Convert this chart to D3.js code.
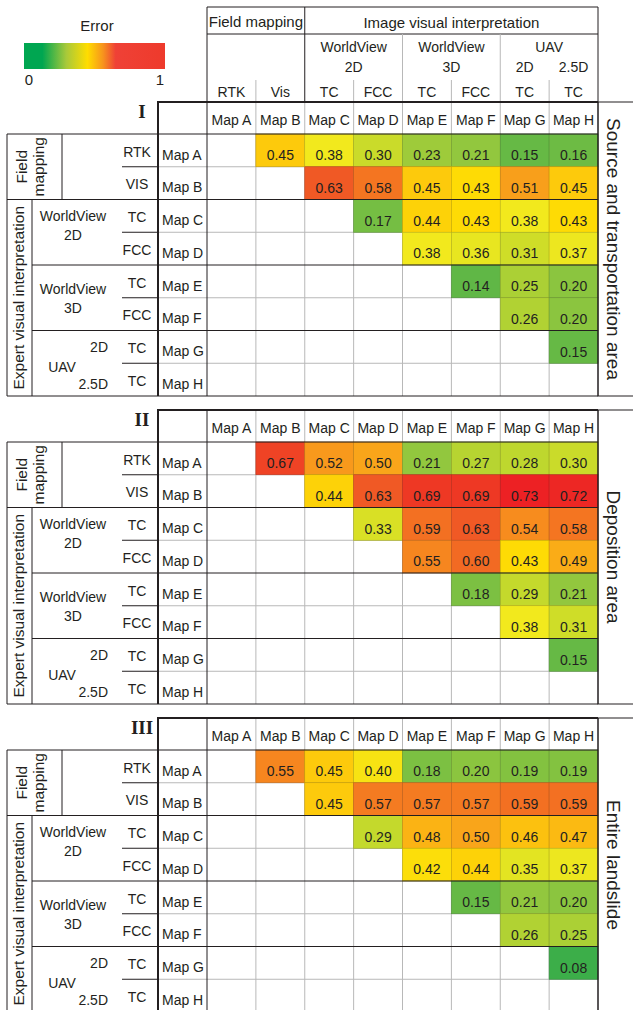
<!DOCTYPE html>
<html>
<head>
<meta charset="utf-8">
<script src="https://cdn.jsdelivr.net/npm/d3@7"></script>
<style>
body { margin: 0; background: #fff; }
svg { display: block; font-family: "Liberation Sans", Arial, sans-serif; }
text { fill: #231f20; }
</style>
</head>
<body>
<div id="chart"></div>
<script>
// ---- data ----
var maps = ["Map A", "Map B", "Map C", "Map D", "Map E", "Map F", "Map G", "Map H"];
var colSources = ["RTK", "Vis", "TC", "FCC", "TC", "FCC", "TC", "TC"];
var rowSources = ["RTK", "VIS", "TC", "FCC", "TC", "FCC", "TC", "TC"];
var numerals = ["I", "II", "III"];
var areaNames = ["Source and transportation area", "Deposition area", "Entire landslide"];

// upper triangle, row i holds the values for columns i+1 .. H
var sourceArea = [
    [0.45, 0.38, 0.30, 0.23, 0.21, 0.15, 0.16],
    [0.63, 0.58, 0.45, 0.43, 0.51, 0.45],
    [0.17, 0.44, 0.43, 0.38, 0.43],
    [0.38, 0.36, 0.31, 0.37],
    [0.14, 0.25, 0.20],
    [0.26, 0.20],
    [0.15]
];
var depositionArea = [
    [0.67, 0.52, 0.50, 0.21, 0.27, 0.28, 0.30],
    [0.44, 0.63, 0.69, 0.69, 0.73, 0.72],
    [0.33, 0.59, 0.63, 0.54, 0.58],
    [0.55, 0.60, 0.43, 0.49],
    [0.18, 0.29, 0.21],
    [0.38, 0.31],
    [0.15]
];
var entireLandslide = [
    [0.55, 0.45, 0.40, 0.18, 0.20, 0.19, 0.19],
    [0.45, 0.57, 0.57, 0.57, 0.59, 0.59],
    [0.29, 0.48, 0.50, 0.46, 0.47],
    [0.42, 0.44, 0.35, 0.37],
    [0.15, 0.21, 0.20],
    [0.26, 0.25],
    [0.08]
];
var panels = [sourceArea, depositionArea, entireLandslide];

// ---- layout ----
var width = 633, height = 1010;
var panelTops = [102, 410, 718];
var headH = 32, rowH = 32.75;
var dark = "#231f20", light = "#b8b8b8";

var svg = d3.select("#chart").append("svg")
    .attr("width", width)
    .attr("height", height);

var x = d3.scaleBand().domain(maps).range([207, 598]);
var bw = x.bandwidth();

// cell colour, same scale for all three panels
var color = d3.scaleLinear()
    .domain([0.08, 0.15, 0.21, 0.30, 0.38, 0.43, 0.46, 0.50, 0.55, 0.60, 0.65, 0.69, 0.73])
    .range(["#3cae49", "#66b945", "#92c73e", "#cadb2a", "#f2e91d", "#fedb05", "#fcc10f",
            "#f9a51a", "#f6861f", "#f26a23", "#ef4e27", "#ee3824", "#ed2124"])
    .clamp(true);

function line(g, x1, y1, x2, y2, stroke, w) {
    g.append("line")
        .attr("x1", x1).attr("y1", y1).attr("x2", x2).attr("y2", y2)
        .attr("stroke", stroke).attr("stroke-width", w || 1);
}
function label(g, t, tx, ty, size, anchor) {
    return g.append("text")
        .attr("x", tx).attr("y", ty)
        .attr("font-size", size)
        .attr("text-anchor", anchor || "middle")
        .text(t);
}

// ---- legend ----
var grad = svg.append("defs").append("linearGradient").attr("id", "errGrad");
[[0, "#00a651"], [0.13, "#00a651"], [0.3, "#a8c93a"], [0.45, "#ffdd00"],
 [0.56, "#f7941d"], [0.65, "#ef4136"], [1, "#ee3a2c"]].forEach(function (s) {
    grad.append("stop").attr("offset", s[0]).attr("stop-color", s[1]);
});
label(svg, "Error", 97, 31, 15);
svg.append("rect").attr("x", 24).attr("y", 43).attr("width", 141).attr("height", 26)
    .attr("fill", "url(#errGrad)");
label(svg, "0", 29, 85, 15);
label(svg, "1", 160, 85, 15);

// ---- column header ----
var hd = svg.append("g");
line(hd, 207, 7, 598, 7, dark);
line(hd, 207, 34, 598, 34, dark);
line(hd, 207, 7, 207, 102, dark);
line(hd, x("Map C"), 7, x("Map C"), 102, dark);
line(hd, 598, 7, 598, 102, dark);
line(hd, x("Map E"), 34, x("Map E"), 102, light);
line(hd, x("Map G"), 34, x("Map G"), 102, light);
["Map B", "Map D", "Map F", "Map H"].forEach(function (m) {
    line(hd, x(m), 80, x(m), 102, light);
});
label(hd, "Field mapping", x("Map B"), 27, 15);
label(hd, "Image visual interpretation", (x("Map C") + 598) / 2, 28, 15);
label(hd, "WorldView", x("Map D"), 52, 14);
label(hd, "2D", x("Map D"), 72, 14);
label(hd, "WorldView", x("Map F"), 52, 14);
label(hd, "3D", x("Map F"), 72, 14);
label(hd, "UAV", x("Map H"), 52, 14);
label(hd, "2D", x("Map G") + bw / 2, 72, 14);
label(hd, "2.5D", x("Map H") + bw / 2, 72, 14);
colSources.forEach(function (s, i) {
    label(hd, s, x(maps[i]) + bw / 2, 97, 14);
});

// ---- panels ----
panels.forEach(function (vals, p) {
    var T = panelTops[p];
    var bottom = T + headH + rowH * 8;
    var y = d3.scaleBand().domain(maps).range([T + headH, bottom]);
    var g = svg.append("g");

    // light grid
    maps.slice(1).forEach(function (m) {
        line(g, x(m), T, x(m), bottom, light);
    });
    maps.slice(1).forEach(function (m, i) {
        if (i % 2 == 0) line(g, 158, y(m), 598, y(m), light);
    });

    // cells
    var cells = [];
    vals.forEach(function (row, i) {
        row.forEach(function (v, k) {
            cells.push({ r: maps[i], c: maps[i + 1 + k], v: v });
        });
    });
    g.selectAll("rect.cell").data(cells).enter().append("rect")
        .attr("class", "cell")
        .attr("x", function (d) { return x(d.c); })
        .attr("y", function (d) { return y(d.r); })
        .attr("width", bw)
        .attr("height", y.bandwidth())
        .attr("fill", function (d) { return color(d.v); })
        .attr("stroke", function (d) { return d3.color(color(d.v)).darker(0.7); })
        .attr("stroke-width", 0.6);
    g.selectAll("text.val").data(cells).enter().append("text")
        .attr("class", "val")
        .attr("x", function (d) { return x(d.c) + bw / 2; })
        .attr("y", function (d) { return y(d.r) + 26; })
        .attr("font-size", 14)
        .attr("text-anchor", "middle")
        .text(function (d) { return d3.format(".2f")(d.v); });

    // dark structure lines
    line(g, 157, T, 598, T, dark, 2);
    line(g, 158, T, 158, bottom, dark, 2);
    line(g, 207, T, 207, bottom, dark);
    line(g, 598, T, 598, bottom, dark);
    line(g, 7, T + headH, 598, T + headH, dark);
    ["Map C", "Map E", "Map G"].forEach(function (m) {
        line(g, m == "Map C" ? 7 : 32, y(m), 598, y(m), dark);
    });
    line(g, 7, bottom, 598, bottom, dark);

    // header row of the panel
    maps.forEach(function (m) {
        label(g, m, x(m) + bw / 2, T + 23, 14);
        label(g, m, 162, y(m) + 25.5, 14, "start");
    });
    g.append("text").attr("x", 142).attr("y", T + 16)
        .attr("font-family", "'Liberation Serif', 'Times New Roman', serif")
        .attr("font-weight", "bold").attr("font-size", 19)
        .attr("text-anchor", "middle").text(numerals[p]);

    // left block
    line(g, 7, T + headH, 7, bottom, dark);
    line(g, 62, T + headH, 62, y("Map C"), dark);
    line(g, 32, y("Map C"), 32, bottom, dark);
    ["Map B", "Map D", "Map F", "Map H"].forEach(function (m) {
        line(g, 122, y(m), 158, y(m), dark);
    });
    rowSources.forEach(function (s, i) {
        label(g, s, 137, y(maps[i]) + 22.5, 14);
    });
    var fmY = (T + headH + y("Map C")) / 2;
    label(g, "Field", 27, fmY, 15.5).attr("transform", "rotate(-90,27," + fmY + ")");
    label(g, "mapping", 44, fmY, 15.5).attr("transform", "rotate(-90,44," + fmY + ")");
    var evY = (y("Map C") + bottom) / 2;
    label(g, "Expert visual interpretation", 24, evY, 15.5)
        .attr("transform", "rotate(-90,24," + evY + ")");
    label(g, "WorldView", 73, y("Map C") + 21, 14);
    label(g, "2D", 73, y("Map C") + 40, 14);
    label(g, "WorldView", 73, y("Map E") + 29, 14);
    label(g, "3D", 73, y("Map E") + 48, 14);
    label(g, "2D", 108, y("Map G") + 21.5, 14, "end");
    label(g, "UAV", 62, y("Map G") + 41.5, 14);
    label(g, "2.5D", 108, y("Map G") + 58, 14, "end");

    // right block
    g.append("rect").attr("x", 598).attr("y", T).attr("width", 50).attr("height", bottom - T)
        .attr("fill", "none").attr("stroke", dark);
    var ry = (T + bottom) / 2;
    label(g, areaNames[p], 607, ry, 19).attr("transform", "rotate(90,607," + ry + ")");
});
</script>
</body>
</html>
